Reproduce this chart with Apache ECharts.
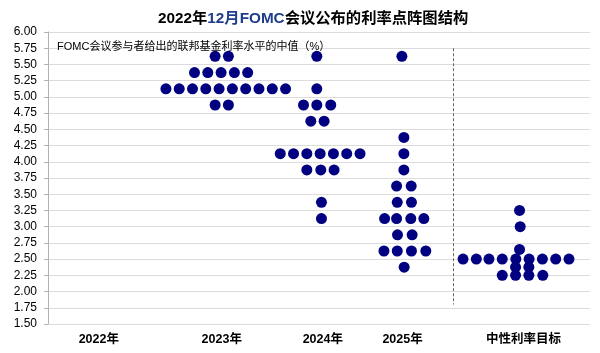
<!DOCTYPE html>
<html>
<head>
<meta charset="utf-8">
<script src="https://cdn.jsdelivr.net/npm/echarts@6/dist/echarts.min.js"></script>
<style>html,body{margin:0;padding:0;background:#fff}#c{width:600px;height:353px}</style>
</head>
<body>
<div id="c"></div>
<script>
// ---- data (x = horizontal slot position, y = policy rate %) ----
const titleMain = ['2022年', '12月FOMC', '会议公布的利率点阵图结构'];
const subTitle = 'FOMC会议参与者给出的联邦基金利率水平的中值（%）';
const xCategoryLabels = ['2022年', '2023年', '2024年', '2025年', '中性利率目标'];
const xCategoryPos = [4.05, 13.3, 20.9, 26.9, 36.0];
const separatorX = 30.68;
const separatorRange = [5.75, 1.8];

const dots2023 = [
  [12.8, 5.625], [13.8, 5.625],
  [11.25, 5.375], [12.25, 5.375], [13.25, 5.375], [14.25, 5.375], [15.25, 5.375],
  [9.1, 5.125], [10.1, 5.125], [11.1, 5.125], [12.1, 5.125], [13.1, 5.125],
  [14.1, 5.125], [15.1, 5.125], [16.1, 5.125], [17.1, 5.125], [18.1, 5.125],
  [12.8, 4.875], [13.8, 4.875]
];
const dots2024 = [
  [20.45, 5.625],
  [20.45, 5.125],
  [19.45, 4.875], [20.45, 4.875], [21.5, 4.875],
  [20.0, 4.625], [21.0, 4.625],
  [17.7, 4.125], [18.7, 4.125], [19.7, 4.125], [20.7, 4.125], [21.7, 4.125], [22.7, 4.125], [23.7, 4.125],
  [19.7, 3.875], [20.75, 3.875], [21.75, 3.875],
  [20.8, 3.375],
  [20.8, 3.125]
];
const dots2025 = [
  [26.85, 5.625],
  [27.0, 4.375],
  [27.0, 4.125],
  [27.0, 3.875],
  [26.45, 3.625], [27.55, 3.625],
  [26.5, 3.375], [27.57, 3.375],
  [25.55, 3.125], [26.45, 3.125], [27.52, 3.125], [28.5, 3.125],
  [26.52, 2.875], [27.62, 2.875],
  [25.5, 2.625], [26.5, 2.625], [27.57, 2.625], [28.65, 2.625],
  [27.02, 2.375]
];
const dotsLongerRun = [
  [35.7, 3.25],
  [35.75, 3.0],
  [35.7, 2.65],
  [31.45, 2.5], [32.45, 2.5], [33.4, 2.5], [34.4, 2.5], [35.42, 2.5],
  [36.42, 2.5], [37.42, 2.5], [38.42, 2.5], [39.42, 2.5],
  [35.4, 2.375], [36.4, 2.375],
  [34.4, 2.25], [35.4, 2.25], [36.4, 2.25], [37.45, 2.25]
];

const dotColor = '#000080';
const baseFont = "Arial, 'Liberation Sans', 'Noto Sans CJK SC', sans-serif";

function dotSeries(name, data, extra) {
  return Object.assign({
    name: name,
    type: 'scatter',
    data: data,
    symbol: 'circle',
    symbolSize: 11,
    itemStyle: { color: dotColor, opacity: 1 },
    silent: true,
    z: 3
  }, extra || {});
}

const chart = echarts.init(document.getElementById('c'), null, { renderer: 'canvas' });
chart.setOption({
  animation: false,
  backgroundColor: '#fff',
  textStyle: { fontFamily: baseFont },
  title: [
    {
      text: '{a|' + titleMain[0] + '}{b|' + titleMain[1] + '}{a|' + titleMain[2] + '}',
      left: 153,
      top: 6,
      textStyle: {
        rich: {
          a: { fontSize: 15.3, fontWeight: 'bold', color: '#000', fontFamily: baseFont },
          b: { fontSize: 15.3, fontWeight: 'bold', color: '#1f3d8c', fontFamily: baseFont }
        }
      }
    },
    {
      text: subTitle,
      left: 52,
      top: 36,
      textStyle: { fontSize: 11, fontWeight: 'normal', color: '#000', fontFamily: baseFont }
    }
  ],
  grid: { left: 48, right: 10, top: 32, bottom: 29 },
  xAxis: {
    type: 'value',
    min: 0.23,
    max: 41,
    splitLine: { show: false },
    axisLine: { show: false },
    axisTick: { show: false },
    axisLabel: {
      customValues: xCategoryPos,
      margin: 9,
      fontSize: 12.5,
      fontWeight: 'bold',
      color: '#000',
      fontFamily: baseFont,
      formatter: function (v) {
        for (let i = 0; i < xCategoryPos.length; i++) {
          if (Math.abs(xCategoryPos[i] - v) < 1e-6) return xCategoryLabels[i];
        }
        return '';
      }
    }
  },
  yAxis: {
    type: 'value',
    min: 1.5,
    max: 6,
    interval: 0.25,
    axisLine: { show: true, lineStyle: { color: '#b3b3b3', width: 1 } },
    axisTick: { show: true, length: 4, lineStyle: { color: '#b3b3b3' } },
    axisLabel: {
      fontSize: 12,
      color: '#000',
      margin: 11,
      fontFamily: baseFont,
      formatter: function (v) { return v.toFixed(2); }
    },
    splitLine: { show: true, lineStyle: { color: '#dcdcdc', width: 1 } }
  },
  series: [
    dotSeries('2023', dots2023),
    dotSeries('2024', dots2024),
    dotSeries('2025', dots2025),
    dotSeries('longer run', dotsLongerRun, {
      markLine: {
        silent: true,
        symbol: ['none', 'none'],
        label: { show: false },
        lineStyle: { color: '#666', type: [3, 2], width: 1 },
        data: [[{ coord: [separatorX, separatorRange[0]] }, { coord: [separatorX, separatorRange[1]] }]]
      }
    })
  ]
});
</script>
</body>
</html>
